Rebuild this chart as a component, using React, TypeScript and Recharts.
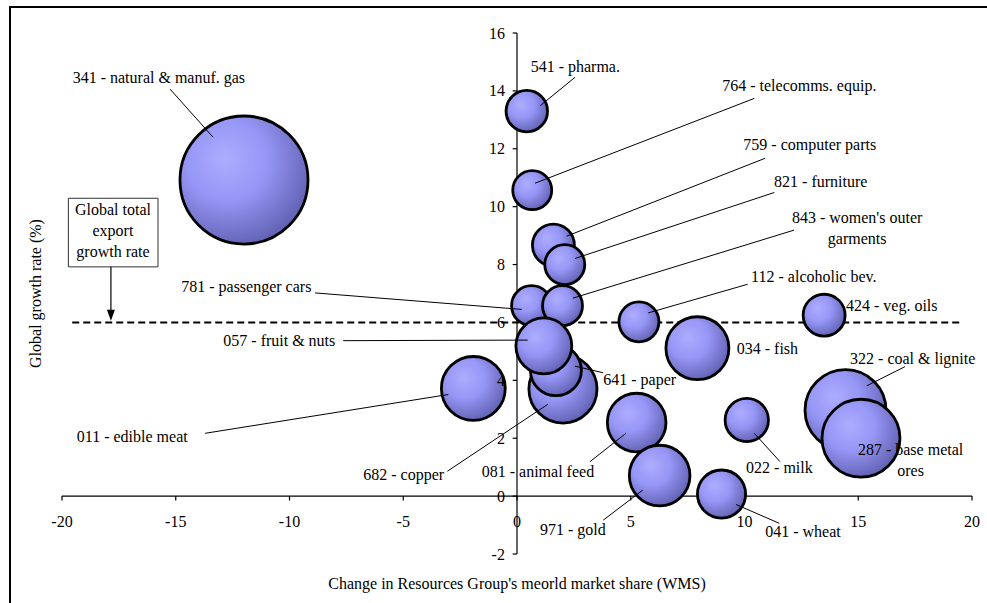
import React from 'react';
import {
  ScatterChart,
  Scatter,
  XAxis,
  YAxis,
  ZAxis,
  ReferenceLine,
  ReferenceArea,
  ReferenceDot,
} from 'recharts';

// ---------- data ----------
const codes = ['341', '541', '764', '759', '821', '781', '843', '112', '424', '682', '641', '057', '011', '034', '322', '287', '022', '081', '971', '041'];
const products = [
  'natural & manuf. gas', 'pharma.', 'telecomms. equip.', 'computer parts', 'furniture',
  'passenger cars', "women's outer garments", 'alcoholic bev.', 'veg. oils', 'copper',
  'paper', 'fruit & nuts', 'edible meat', 'fish', 'coal & lignite',
  'base metal ores', 'milk', 'animal feed', 'gold', 'wheat',
];
const wmsChange = [-12.0, 0.43, 0.67, 1.6, 2.1, 0.64, 2.0, 5.36, 13.5, 2.02, 1.71, 1.18, -1.92, 7.93, 14.44, 15.12, 10.1, 5.26, 6.27, 8.99];
const growthRate = [10.92, 13.3, 10.57, 8.67, 8.0, 6.58, 6.58, 6.02, 6.25, 3.7, 4.35, 5.19, 3.72, 5.11, 2.97, 2.0, 2.63, 2.54, 0.71, 0.07];
const bubbleSize = [41, 4.3, 3.8, 4.4, 4.0, 4.0, 4.0, 4.0, 4.4, 11.6, 6.5, 7.8, 10.2, 9.9, 16.4, 15.2, 4.7, 8.6, 9.2, 5.8];

const xTicks = [-20, -15, -10, -5, 0, 5, 10, 15, 20];
const yTicks = [-2, 0, 2, 4, 6, 8, 10, 12, 14, 16];
const globalGrowthRate = 6;
const boxLines = ['Global total', 'export', 'growth rate'];
const xTitle = "Change in Resources Group's meorld market share (WMS)";
const yTitle = 'Global growth rate (%)';

// ---------- annotation layout (data coordinates) ----------
const labelLines: string[][] = [
  ['341 - natural & manuf. gas'], ['541 - pharma.'], ['764 - telecomms. equip.'], ['759 - computer parts'], ['821 - furniture'],
  ['781 - passenger cars'], ["843 - women's outer", 'garments'], ['112 - alcoholic bev.'], ['424 - veg. oils'], ['682 - copper'],
  ['641 - paper'], ['057 - fruit & nuts'], ['011 - edible meat'], ['034 - fish'], ['322 - coal & lignite'],
  ['287 - base metal', 'ores'], ['022 - milk'], ['081 - animal feed'], ['971 - gold'], ['041 - wheat'],
];
const labelPos: [number, number][] = [
  [-19.53, 14.48], [0.6, 14.86], [9.02, 14.2], [9.95, 12.16], [11.3, 10.86],
  [-14.76, 7.26], [14.95, 9.63], [10.29, 7.58], [14.46, 6.6], [-6.76, 0.76],
  [3.79, 4.04], [-12.91, 5.39], [-19.35, 2.05], [9.66, 5.12], [14.64, 4.76],
  [17.3, 1.62], [10.07, 0.98], [-1.55, 0.84], [1.01, -1.15], [10.91, -1.23],
];
const labelAnchor = ['start', 'start', 'start', 'start', 'start', 'start', 'middle', 'start', 'start', 'start',
  'start', 'start', 'start', 'start', 'start', 'middle', 'start', 'start', 'start', 'start'];
const leaders: ([number, number, number, number] | null)[] = [
  [-15.25, 14.06, -13.36, 12.4], [2.55, 14.47, 1.01, 13.48], [10.43, 13.74, 0.79, 10.81], [10.9, 11.67, 2.18, 8.98], [11.31, 10.49, 2.55, 8.21],
  [-8.88, 7.02, 0.21, 6.45], [12.18, 9.19, 2.46, 6.84], [10.14, 7.32, 5.77, 6.33], null, [-3.06, 0.86, 1.35, 3.17],
  [3.79, 4.26, 2.55, 4.49], [-7.64, 5.37, 0.47, 5.39], [-13.71, 2.17, -3.02, 3.51], null, [17.05, 4.47, 15.37, 3.81],
  null, [11.56, 1.19, 10.43, 2.17], [3.21, 1.19, 4.79, 2.17], [3.79, -0.83, 5.53, 0.21], [11.53, -0.94, 9.63, -0.29],
];
const boxArea = { x1: -19.72, x2: -15.78, y1: 7.92, y2: 10.29 };
const boxTextPos: [number, number] = [-17.76, 9.92];
const arrowX = -17.85;

// ---------- derived tables ----------
const bubbles = codes.map((c, i) => ({
  code: c,
  name: products[i],
  x: wmsChange[i],
  y: growthRate[i],
  z: bubbleSize[i],
}));

type Ann = { x: number; y: number; lines: string[]; anchor: string; lh?: number };
const annotations: Ann[] = [
  ...codes.map((_, i) => ({ x: labelPos[i][0], y: labelPos[i][1], lines: labelLines[i], anchor: labelAnchor[i], lh: 21 })),
  ...xTicks.map((t) => ({ x: t, y: -0.86, lines: [String(t)], anchor: 'middle' })),
  ...yTicks.map((t) => ({ x: -0.53, y: t, lines: [String(t)], anchor: 'end' })),
  { x: boxTextPos[0], y: boxTextPos[1], lines: boxLines, anchor: 'middle', lh: 21 },
];

const FONT = '"Liberation Serif", "Times New Roman", serif';

const Bubble = (p: any) => {
  const { cx, cy, width, size } = p;
  const r = width ? width / 2 : Math.sqrt((size || 0) / Math.PI);
  return <circle cx={cx} cy={cy} r={r} fill="url(#bubbleFill)" stroke="#000" strokeWidth={2.8} />;
};

const TextShape = (p: any) => {
  const { cx, cy, payload } = p;
  const lh = payload.lh ?? 21;
  return (
    <text x={cx} y={cy} textAnchor={payload.anchor} fontSize={16} fontFamily={FONT} fill="#000">
      {payload.lines.map((l: string, i: number) => (
        <tspan key={i} x={cx} dy={i === 0 ? '0.35em' : lh}>
          {l}
        </tspan>
      ))}
    </text>
  );
};

const Arrowhead = (p: any) => {
  const { cx, cy } = p;
  return <polygon points={`${cx - 4},${cy - 11} ${cx + 4},${cy - 11} ${cx},${cy}`} fill="#000" />;
};

const XTitle = (p: any) => {
  const vb = p.viewBox || {};
  return (
    <text x={vb.x + vb.width / 2} y={583} textAnchor="middle" dy="0.35em" fontSize={16} fontFamily={FONT} fill="#000">
      {xTitle}
    </text>
  );
};

const YTitle = (p: any) => {
  const vb = p.viewBox || {};
  const cy = vb.y + vb.height / 2;
  return (
    <text x={35} y={cy} transform={`rotate(-90, 35, ${cy})`} textAnchor="middle" dy="0.35em" fontSize={16} fontFamily={FONT} fill="#000">
      {yTitle}
    </text>
  );
};

export default function App() {
  return (
    <div style={{ position: 'fixed', left: 0, top: 0, width: 987, height: 603, overflow: 'hidden', background: '#fff' }}>
      <svg width={0} height={0} style={{ position: 'absolute' }}>
        <defs>
          <radialGradient id="bubbleFill" cx="0.38" cy="0.36" r="0.7" fx="0.35" fy="0.33">
            <stop offset="0%" stopColor="#adadff" />
            <stop offset="45%" stopColor="#9696f6" />
            <stop offset="100%" stopColor="#5e5eae" />
          </radialGradient>
        </defs>
      </svg>
      <div
        style={{
          position: 'absolute',
          left: 9,
          top: 6,
          width: 1200,
          height: 800,
          borderLeft: '2px solid #000',
          borderTop: '2px solid #000',
        }}
      />
      <div style={{ position: 'absolute', left: 0, top: 0 }}>
        <ScatterChart width={987} height={603} margin={{ top: 33, right: 15, bottom: 0, left: 0 }}>
          <XAxis
            type="number"
            dataKey="x"
            domain={[-20, 20]}
            ticks={xTicks}
            axisLine={false}
            tickLine={false}
            tick={false}
            height={49}
            label={{ content: XTitle }}
          />
          <YAxis
            type="number"
            dataKey="y"
            domain={[-2, 16]}
            ticks={yTicks}
            axisLine={false}
            tickLine={false}
            tick={false}
            width={62}
            label={{ content: YTitle }}
          />
          <ZAxis type="number" dataKey="z" domain={[0, 100]} range={[0, 31416]} />

          <ReferenceArea {...boxArea} fill="#fff" fillOpacity={1} stroke="#333" strokeWidth={1} />
          <ReferenceLine y={0} stroke="#000" strokeWidth={1.2} />
          <ReferenceLine x={0} stroke="#000" strokeWidth={1.2} />
          {xTicks.map((t) => (
            <ReferenceLine key={'xt' + t} segment={[{ x: t, y: 0 }, { x: t, y: -0.15 }]} stroke="#000" strokeWidth={1.2} />
          ))}
          {yTicks.map((t) => (
            <ReferenceLine key={'yt' + t} segment={[{ x: 0, y: t }, { x: -0.19, y: t }]} stroke="#000" strokeWidth={1.2} />
          ))}
          <ReferenceLine
            segment={[{ x: -19.55, y: globalGrowthRate }, { x: 19.5, y: globalGrowthRate }]}
            stroke="#000"
            strokeWidth={2}
            strokeDasharray="7 4"
          />
          <ReferenceLine segment={[{ x: arrowX, y: boxArea.y1 }, { x: arrowX, y: globalGrowthRate + 0.3 }]} stroke="#000" strokeWidth={1.2} />
          <ReferenceDot x={arrowX} y={globalGrowthRate + 0.06} r={0} shape={Arrowhead} />

          <Scatter data={bubbles} shape={Bubble} isAnimationActive={false} />

          {leaders.map((l, i) =>
            l ? (
              <ReferenceLine
                key={'ld' + i}
                segment={[{ x: l[0], y: l[1] }, { x: l[2], y: l[3] }]}
                stroke="#000"
                strokeWidth={1}
                {...({ zIndex: 700 } as any)}
              />
            ) : null
          )}

          <Scatter data={annotations} shape={TextShape} isAnimationActive={false} {...({ zIndex: 800 } as any)} />
        </ScatterChart>
      </div>
    </div>
  );
}
